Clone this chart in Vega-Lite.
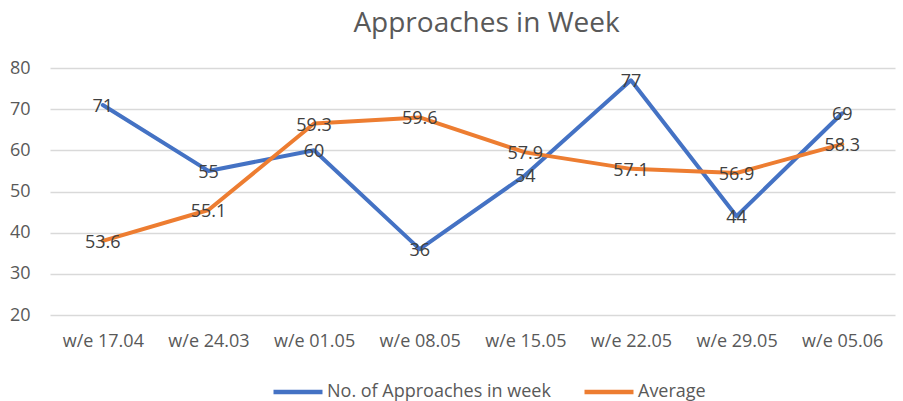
{
  "$schema": "https://vega.github.io/schema/vega-lite/v6.json",
  "autosize": "none",
  "width": 845,
  "height": 247,
  "padding": {"left": 50, "top": 68, "right": 8, "bottom": 86},
  "background": "white",
  "config": {
    "font": "Open Sans",
    "view": {"stroke": null}
  },
  "title": {
    "text": "Approaches in Week",
    "fontSize": 28,
    "fontWeight": "normal",
    "color": "#595959",
    "font": "Open Sans",
    "anchor": "middle",
    "dx": 14,
    "offset": 21
  },
  "data": {
    "values": [
      {"week": "w/e 17.04", "approaches": 71, "average": 53.6},
      {"week": "w/e 24.03", "approaches": 55, "average": 55.1},
      {"week": "w/e 01.05", "approaches": 60, "average": 59.3},
      {"week": "w/e 08.05", "approaches": 36, "average": 59.6},
      {"week": "w/e 15.05", "approaches": 54, "average": 57.9},
      {"week": "w/e 22.05", "approaches": 77, "average": 57.1},
      {"week": "w/e 29.05", "approaches": 44, "average": 56.9},
      {"week": "w/e 05.06", "approaches": 69, "average": 58.3}
    ]
  },
  "encoding": {
    "x": {
      "field": "week",
      "type": "ordinal",
      "sort": null,
      "scale": {"type": "point", "padding": 0.5},
      "axis": {
        "title": null,
        "labelAngle": 0,
        "labelFontSize": 18,
        "labelColor": "#595959",
        "labelPadding": 17,
        "ticks": false,
        "domain": false,
        "grid": false
      }
    }
  },
  "layer": [
    {
      "mark": {"type": "line", "strokeWidth": 4, "strokeCap": "round", "strokeJoin": "round"},
      "encoding": {
        "y": {
          "field": "approaches",
          "type": "quantitative",
          "scale": {"domain": [20, 80], "nice": false, "zero": false},
          "axis": {
            "title": null,
            "values": [20, 30, 40, 50, 60, 70, 80],
            "labelFontSize": 18,
            "labelColor": "#595959",
            "labelPadding": 20,
            "ticks": false,
            "domain": false,
            "gridColor": "#d9d9d9",
            "gridWidth": 1.3
          }
        },
        "color": {
          "datum": "No. of Approaches in week",
          "type": "nominal",
          "scale": {
            "domain": ["No. of Approaches in week", "Average"],
            "range": ["#4472C4", "#ED7D31"]
          },
          "legend": {
            "title": null,
            "orient": "none",
            "direction": "horizontal",
            "legendX": 221,
            "legendY": 297,
            "symbolType": "stroke",
            "symbolSize": 2400,
            "symbolStrokeWidth": 4.5,
            "labelFontSize": 18,
            "labelColor": "#595959",
            "labelOffset": 2,
            "labelLimit": 0,
            "columnPadding": 24
          }
        }
      }
    },
    {
      "mark": {"type": "line", "strokeWidth": 4, "strokeCap": "round", "strokeJoin": "round"},
      "encoding": {
        "y": {
          "field": "average",
          "type": "quantitative",
          "scale": {"domain": [50, 62], "nice": false, "zero": false},
          "axis": null
        },
        "color": {"datum": "Average", "type": "nominal"}
      }
    },
    {
      "mark": {"type": "text", "fontSize": 18, "color": "#404040", "dy": 2},
      "encoding": {
        "y": {
          "field": "approaches",
          "type": "quantitative",
          "scale": {"domain": [20, 80], "nice": false, "zero": false},
          "axis": null
        },
        "text": {"field": "approaches", "type": "quantitative"}
      }
    },
    {
      "mark": {"type": "text", "fontSize": 18, "color": "#404040", "dy": 2},
      "encoding": {
        "y": {
          "field": "average",
          "type": "quantitative",
          "scale": {"domain": [50, 62], "nice": false, "zero": false},
          "axis": null
        },
        "text": {"field": "average", "type": "quantitative", "format": ".1f"}
      }
    }
  ],
  "resolve": {"scale": {"y": "independent"}}
}
